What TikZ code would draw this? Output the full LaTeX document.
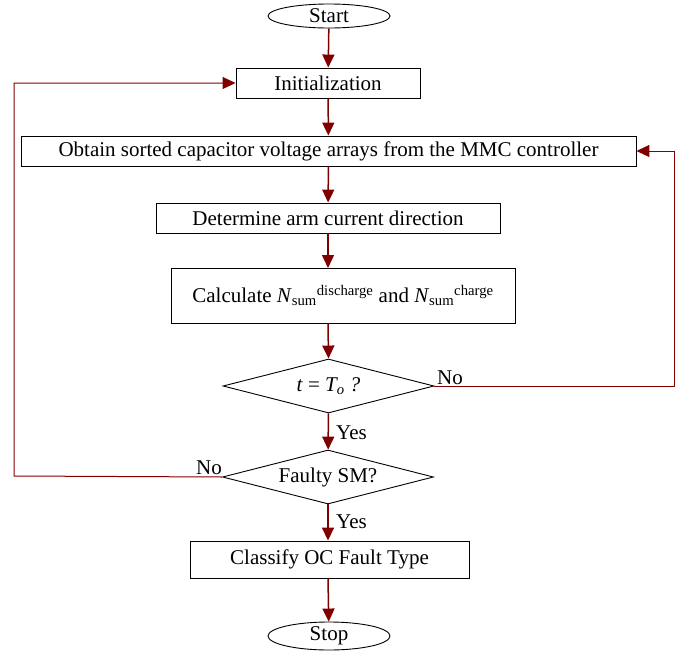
\documentclass[tikz,border=0pt]{standalone}
\usepackage{fontspec}
\setmainfont{Liberation Serif}
\usetikzlibrary{arrows.meta,shapes.geometric,shadows}
\definecolor{arr}{RGB}{128,0,0}
\begin{document}
\begin{tikzpicture}[x=1pt,y=-1pt,
  font=\fontsize{21}{23}\selectfont,
  procbox/.style={draw=black,line width=0.9pt,fill=white,minimum height=30pt,inner sep=0pt,
     drop shadow={shadow xshift=1pt,shadow yshift=-1pt,fill=gray!70,opacity=1}},
  term/.style={draw=black,line width=0.9pt,ellipse,inner sep=0pt,minimum width=122pt,minimum height=24pt},
  decis/.style={draw=black,line width=0.9pt,diamond,aspect=3.8,inner sep=0pt,minimum width=211pt,minimum height=54pt},
  flow/.style={draw=arr,line width=1.5pt,-{Triangle[length=13pt,width=12pt]}},
  loop/.style={draw=arr,line width=1pt,-{Triangle[length=13pt,width=12pt]}},
  lbl/.style={inner sep=0pt}
]
\useasboundingbox (0,0) rectangle (694,656);
\node[term] (start) at (329,16) {Start};
\node[procbox,minimum width=184pt] (init) at (328,83) {Initialization};
\node[procbox,minimum width=615pt] (obtain) at (328.5,151) {Obtain sorted capacitor voltage arrays from the MMC controller};
\node[procbox,minimum width=344pt] (det) at (328,218) {Determine arm current direction};
\node[procbox,minimum width=344pt,minimum height=55pt] (calc) at (343,295.5) {Calculate \textit{N}\textsubscript{sum}\textsuperscript{discharge} and \textit{N}\textsubscript{sum}\textsuperscript{charge}};
\node[decis] (d1) at (328.5,386) {\textit{t} = \textit{T\textsubscript{o} ?}};
\node[decis] (d2) at (328,477) {Faulty SM?};
\node[procbox,minimum width=279pt,minimum height=37pt] (cls) at (329.5,559.5) {Classify OC Fault Type};
\node[term,minimum height=28pt] (stop) at (329,636) {Stop};

\coordinate (c1) at (328,268);
\draw[flow] (start) -- (init);
\draw[flow] (init) -- (obtain);
\draw[flow] (obtain) -- (det);
\draw[flow] (det) -- (c1);
\draw[flow] (calc.south -| c1) -- (d1.north);
\draw[flow] (d1) -- (d2);
\draw[flow] (d2) -- (cls.north -| d2);
\draw[flow] (cls.south -| d2) -- (stop);

\coordinate (r1) at (674,386);
\coordinate (r2) at (674,151);
\draw[loop] (d1.east) -- (r1) -- (r2) -- (obtain.east);
\coordinate (l1) at (14,476);
\coordinate (l2) at (14,83);
\draw[loop] (d2.west) -- (l1) -- (l2) -- (init.west);

\node[lbl,anchor=west] (no1) at (437,378) {No};
\node[lbl,anchor=east] (no2) at (222,468) {No};
\node[lbl,anchor=west] (yes1) at (336,433) {Yes};
\node[lbl,anchor=west] (yes2) at (336,522) {Yes};
\end{tikzpicture}
\end{document}
